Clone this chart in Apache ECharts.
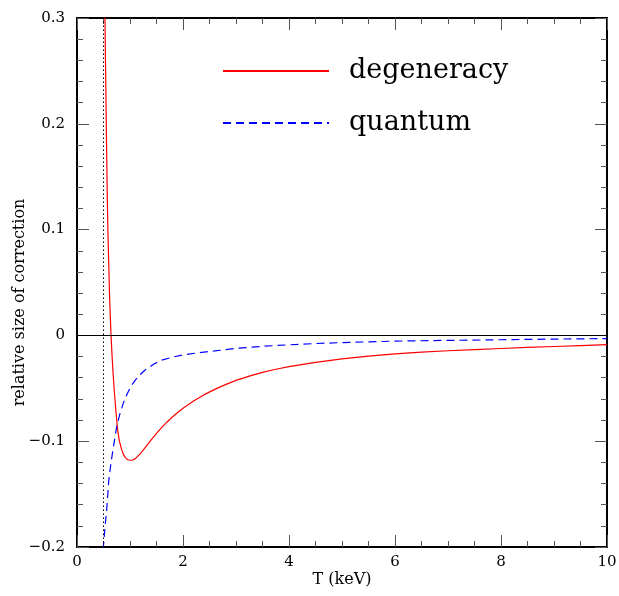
<!DOCTYPE html>
<html>
<head>
<meta charset="utf-8">
<script src="https://cdn.jsdelivr.net/npm/echarts@6/dist/echarts.min.js"></script>
<style>html,body{margin:0;padding:0;background:#fff;}#c{width:619px;height:596px;}</style>
</head>
<body>
<div id="c"></div>
<script>
// Data
var degenT   = [0.515, 0.528, 0.537, 0.547, 0.559, 0.572, 0.584, 0.595, 0.606, 0.617, 0.63, 0.642, 0.66, 0.68, 0.70, 0.717, 0.74, 0.767, 0.80, 0.843, 0.88, 0.92, 0.96, 1.0, 1.05, 1.1, 1.2, 1.3, 1.4, 1.5, 1.6, 1.7, 1.8, 1.9, 2.0, 2.2, 2.4, 2.6, 2.8, 3.0, 3.25, 3.5, 3.75, 4.0, 4.5, 5.0, 5.5, 6.0, 6.5, 7.0, 7.5, 8.0, 8.5, 9.0, 9.5, 10.0];
var degenVal = [0.34, 0.30, 0.26, 0.222, 0.175, 0.128, 0.098, 0.075, 0.053, 0.033, 0.016, 0.0, -0.018, -0.035, -0.050, -0.061, -0.075, -0.0895, -0.100, -0.108, -0.113, -0.116, -0.1175, -0.118, -0.1178, -0.1165, -0.1115, -0.1052, -0.0988, -0.0927, -0.0870, -0.0818, -0.0771, -0.0728, -0.0689, -0.062, -0.056, -0.051, -0.0465, -0.0425, -0.0385, -0.035, -0.032, -0.0295, -0.0255, -0.0222, -0.0196, -0.0175, -0.0158, -0.0145, -0.0134, -0.0124, -0.0114, -0.0105, -0.0096, -0.0088];
var quantT   = [0.49, 0.497, 0.51, 0.53, 0.56, 0.60, 0.64, 0.685, 0.75, 0.81, 0.874, 0.95, 1.03, 1.15, 1.28, 1.45, 1.6, 1.8, 2.0, 2.3, 2.6, 3.0, 3.5, 4.0, 4.5, 5.0, 6.0, 7.0, 8.0, 9.0, 10.0];
var quantVal = [-0.215, -0.2, -0.193, -0.18, -0.165, -0.137, -0.121, -0.106, -0.086, -0.074, -0.064, -0.055, -0.047, -0.039, -0.0329, -0.027, -0.0234, -0.0205, -0.0185, -0.0163, -0.0147, -0.0123, -0.0103, -0.0089, -0.0077, -0.0068, -0.0054, -0.0047, -0.0041, -0.0035, -0.003];
var seriesNames = ['degeneracy', 'quantum'];
var xTicks = [0, 2, 4, 6, 8, 10];
var yTicks = [-0.2, -0.1, 0, 0.1, 0.2, 0.3];
var refX = 0.5;   // dotted vertical line
var refY = 0;     // horizontal zero line

function pairs(xs, ys) { return xs.map(function (x, i) { return [x, ys[i]]; }); }

var FONT = '"DejaVu Serif", "Liberation Serif", serif';
var chart = echarts.init(document.getElementById('c'), null, {renderer: 'canvas'});

function xAxisCfg(pos, showLabel, name) {
  return {
    type: 'value', position: pos, min: xTicks[0], max: xTicks[xTicks.length - 1], interval: xTicks[1] - xTicks[0],
    name: name || '', nameLocation: 'middle', nameGap: 25, nameMoveOverlap: false,
    nameTextStyle: {fontFamily: FONT, fontSize: 16, color: '#000'},
    axisLine: {show: true, onZero: false, lineStyle: {color: '#000', width: 2}},
    axisTick: {show: true, inside: true, length: 12, lineStyle: {color: '#555', width: 1}},
    minorTick: {show: true, splitNumber: 4, length: 6, lineStyle: {color: '#555', width: 1}},
    splitLine: {show: false}, minorSplitLine: {show: false},
    axisLabel: {show: showLabel, margin: 8, fontFamily: FONT, fontSize: 15, color: '#000',
      formatter: function (v) { return String(v); }}
  };
}
function yAxisCfg(pos, showLabel, name) {
  return {
    type: 'value', position: pos, min: yTicks[0], max: yTicks[yTicks.length - 1], interval: 0.1,
    name: name || '', nameLocation: 'middle', nameGap: 49, nameMoveOverlap: false,
    nameTextStyle: {fontFamily: FONT, fontSize: 16, color: '#000', padding: [0, 40, 0, 0]},
    axisLine: {show: true, onZero: false, lineStyle: {color: '#000', width: 2}},
    axisTick: {show: true, inside: true, length: 12, lineStyle: {color: '#555', width: 1}},
    minorTick: {show: true, splitNumber: 5, length: 6, lineStyle: {color: '#555', width: 1}},
    splitLine: {show: false}, minorSplitLine: {show: false},
    axisLabel: {show: showLabel, margin: 12, fontFamily: FONT, fontSize: 15, color: '#000',
      formatter: function (v) {
        var r = Math.round(v * 10) / 10;
        if (r === 0) return '0';
        return r.toFixed(1).replace('-', '\u2212');
      }}
  };
}

var option = {
  animation: false,
  backgroundColor: '#fff',
  grid: {left: 77, right: 12, top: 18, bottom: 49, containLabel: false, outerBoundsMode: 'none'},
  xAxis: [xAxisCfg('bottom', true, 'T (keV)'), xAxisCfg('top', false)],
  yAxis: [yAxisCfg('left', true, 'relative size of correction'), yAxisCfg('right', false)],
  legend: {
    orient: 'vertical', left: 222, top: 56, padding: 0,
    itemWidth: 106, itemHeight: 30, itemGap: 22,
    data: seriesNames,
    itemStyle: {opacity: 0},
    textStyle: {fontFamily: FONT, fontSize: 27, color: '#000', lineHeight: 30, padding: [0, 0, 0, 15]}
  },
  series: [
    {
      name: seriesNames[0], type: 'line', data: pairs(degenT, degenVal),
      symbol: 'none', smooth: false, clip: true,
      lineStyle: {color: '#ff0000', width: 1.2}, itemStyle: {color: '#ff0000'},
      markLine: {
        silent: true, symbol: 'none', animation: false, label: {show: false},
        data: [
          {xAxis: refX, lineStyle: {color: '#000', type: [1.5, 2.5], width: 1}},
          {yAxis: refY, lineStyle: {color: '#000', type: 'solid', width: 1}}
        ]
      },
      z: 3
    },
    {
      name: seriesNames[1], type: 'line', data: pairs(quantT, quantVal),
      symbol: 'none', smooth: false, clip: true,
      lineStyle: {color: '#0000ff', width: 1.2, type: [8, 5]}, itemStyle: {color: '#0000ff'},
      z: 3
    }
  ]
};
chart.setOption(option);
</script>
</body>
</html>
